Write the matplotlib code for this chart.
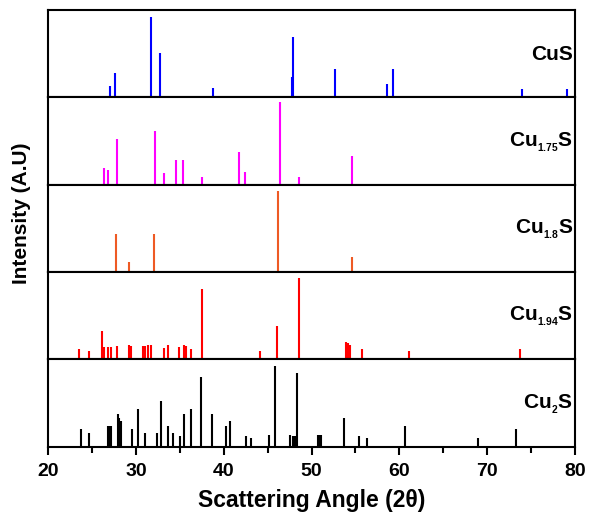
import matplotlib
matplotlib.use("Agg")
import matplotlib.pyplot as plt
from matplotlib.ticker import MultipleLocator

plt.rcParams['font.family'] = ['Liberation Sans', 'DejaVu Sans']
plt.rcParams['font.weight'] = 'bold'
plt.rcParams['mathtext.fontset'] = 'custom'
plt.rcParams['mathtext.rm'] = 'Liberation Sans:bold'
plt.rcParams['mathtext.it'] = 'Liberation Sans:bold'
plt.rcParams['mathtext.bf'] = 'Liberation Sans:bold'

# Reference stick patterns: peak position (2-theta) and relative intensity (0-100)
cus_pos = [27.0, 27.6, 31.7, 32.75, 38.75, 47.75, 47.9, 52.7, 58.6, 59.3, 74.0, 79.1]
cus_int = [13, 28, 92, 51, 10, 23, 69, 32, 15, 32, 9, 9]

cu175_pos = [26.4, 26.75, 27.8, 32.2, 33.2, 34.55, 35.3, 37.55, 41.75, 42.4, 46.35, 48.6, 54.65]
cu175_int = [19, 17, 52, 61, 13, 28, 28, 9, 37, 14, 94, 9, 33]

cu18_pos = [27.7, 29.15, 32.05, 46.15, 54.65]
cu18_int = [44, 11, 44, 93, 17]

cu194_pos = [23.5, 24.6, 26.15, 26.4, 26.85, 27.1, 27.85, 29.2, 29.4, 30.75, 31.0,
             31.4, 31.65, 33.15, 33.6, 34.85, 35.45, 35.65, 36.25, 37.5, 44.15,
             46.05, 48.6, 53.95, 54.15, 54.35, 55.75, 61.15, 73.8]
cu194_int = [12, 10, 33, 14, 14, 14, 15, 17, 15, 15, 15,
             16, 16, 13, 16, 14, 16, 15, 12, 80, 10,
             38, 93, 20, 19, 17, 12, 10, 12]

cu2s_pos = [23.7, 24.65, 26.75, 26.95, 27.15, 27.9, 28.1, 28.3, 29.5, 30.25, 31.0,
            32.35, 32.85, 33.6, 34.2, 35.0, 35.45, 36.3, 37.45, 38.6, 40.2, 40.75,
            42.55, 43.15, 45.1, 45.85, 47.55, 47.85, 48.1, 48.35, 50.7, 50.9, 51.1,
            53.75, 55.35, 56.3, 60.65, 68.95, 73.3]
cu2s_int = [20, 16, 24, 24, 24, 38, 33, 29, 20, 43, 16,
            16, 52, 24, 16, 12, 38, 43, 80, 38, 24, 29,
            12, 10, 14, 93, 14, 12, 12, 85, 14, 14, 14,
            33, 12, 10, 24, 10, 20]

# nested subscript gives the small, dropped stoichiometry digits
names = ['CuS', 'Cu$_{_{1.75}}$S', 'Cu$_{_{1.8}}$S', 'Cu$_{_{1.94}}$S', 'Cu$_{_{2}}$S']
positions = [cus_pos, cu175_pos, cu18_pos, cu194_pos, cu2s_pos]
intensities = [cus_int, cu175_int, cu18_int, cu194_int, cu2s_int]
colors = ['#0000FF', '#FF00FF', '#EE5A24', '#FF0000', '#000000']

fig, axes = plt.subplots(5, 1, sharex=True, figsize=(5.89, 5.13), dpi=100)
fig.subplots_adjust(left=0.082, right=0.976, bottom=0.129, top=0.981, hspace=0)

for ax, name, pos, inten, c in zip(axes, names, positions, intensities, colors):
    ax.vlines(pos, 0, inten, color=c, linewidth=1.5)
    ax.set_ylim(0, 100)
    ax.set_xlim(20, 80)
    ax.set_yticks([])
    for sp in ax.spines.values():
        sp.set_linewidth(1.5)
    ax.tick_params(axis='x', which='both', length=0)
    ax.text(0.997, 0.49, name, transform=ax.transAxes, ha='right', va='center',
            fontsize=15, fontweight='bold')

# Only the bottom panel carries the angle scale
bottom = axes[-1]
bottom.xaxis.set_major_locator(MultipleLocator(10))
bottom.xaxis.set_minor_locator(MultipleLocator(5))
bottom.tick_params(axis='x', which='major', direction='out', length=6, width=1.5,
                   labelsize=14, pad=6)
bottom.tick_params(axis='x', which='minor', direction='out', length=4, width=1.5)
for lbl in bottom.get_xticklabels():
    lbl.set_fontweight('bold')
bottom.set_xlabel('Scattering Angle (2θ)', fontsize=16.5, fontweight='bold', labelpad=6)

fig.text(0.036, 0.585, 'Intensity (A.U)', rotation=90, ha='center', va='center',
         fontsize=15, fontweight='bold')

fig.savefig('out.png', dpi=100)
